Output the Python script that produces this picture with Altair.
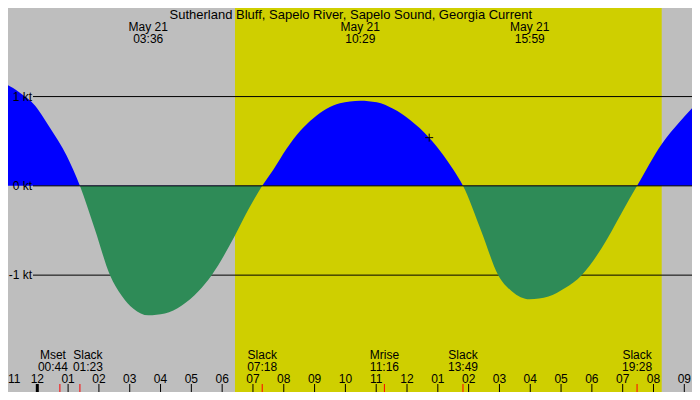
import altair as alt
import pandas as pd

STATION = "Sutherland Bluff, Sapelo River, Sapelo Sound, Georgia Current"
DAY = "May 21"

# current: hours after midnight May 21 (negative = May 20 evening), knots
curve_hours = [-1.25, -0.80, -0.40, -0.13, 0.41, 0.95, 1.383,
               1.87, 2.36, 2.74, 3.12, 3.6, 4.14, 4.69, 5.23, 5.66, 6.42, 6.85, 7.30,
               7.66, 8.09, 8.53, 8.96, 9.39, 9.82, 10.48, 11.02, 11.55, 12.10, 12.72, 13.18, 13.50, 13.817,
               14.42, 14.96, 15.40, 15.98, 16.59, 17.13, 17.67, 18.32, 18.97, 19.467,
               20.27, 20.86, 21.55]
curve_knots = [1.17, 1.10, 1.0, 0.92, 0.65, 0.34, 0.0,
               -0.49, -1.0, -1.23, -1.376, -1.45, -1.43, -1.34, -1.18, -1.0, -0.553, -0.266, 0.0,
               0.18, 0.415, 0.613, 0.756, 0.863, 0.925, 0.954, 0.935, 0.863, 0.738, 0.54, 0.344, 0.183, 0.0,
               -0.516, -1.0, -1.18, -1.27, -1.24, -1.144, -1.0, -0.696, -0.30, 0.0,
               0.47, 0.72, 0.98]

peak_times = ["03:36", "10:29", "15:59"]

event_names = ["Mset", "Slack", "Slack", "Mrise", "Slack", "Slack"]
event_times = ["00:44", "01:23", "07:18", "11:16", "13:49", "19:28"]

sun_times = ["06:25", "20:16"]

hour_ticks = list(range(-1, 22))
hour_labels = ["11", "12", "01", "02", "03", "04", "05", "06", "07", "08", "09", "10",
               "11", "12", "01", "02", "03", "04", "05", "06", "07", "08", "09"]

kt_levels = [1, 0, -1]
kt_labels = ["1 kt", "0 kt", "-1 kt"]

now_hour = [12.72]
now_knots = [0.54]

GRAY = "#bebebe"
DAYCOL = "#cfcf00"
FLOOD = "#0000ff"
EBB = "#2e8b57"
FONT = "Liberation Sans"
W, H = 684, 384


def to_hours(t):
    hh, mm = t.split(":")
    return int(hh) + int(mm) / 60


xs = alt.Scale(domain=[-0.951, 21.250], nice=False, zero=False)
ys = alt.Scale(domain=[-2.309, 1.992], nice=False, zero=False)


def X(f):
    return alt.X(f, scale=xs, axis=None)


def Y(f):
    return alt.Y(f, scale=ys, axis=None)


curve = pd.DataFrame({"h": curve_hours, "kt": curve_knots})

# blue above the zero line, green below: hard stop in a gradient over the area's box
top = max(max(curve_knots), 0)
bottom = min(min(curve_knots), 0)
cut = top / (top - bottom)
fill = alt.LinearGradient(
    gradient="linear", x1=0, y1=0, x2=0, y2=1,
    stops=[
        alt.GradientStop(offset=0, color=FLOOD),
        alt.GradientStop(offset=cut, color=FLOOD),
        alt.GradientStop(offset=cut, color=EBB),
        alt.GradientStop(offset=1, color=EBB),
    ],
)

sun = pd.DataFrame({"rise": [to_hours(sun_times[0])], "set": [to_hours(sun_times[1])]})
events = pd.DataFrame({"name": event_names, "t": event_times})
events["h"] = events["t"].map(to_hours)
peaks = pd.DataFrame({"t": peak_times, "date": DAY})
peaks["h"] = peaks["t"].map(to_hours)
hours = pd.DataFrame({"h": hour_ticks, "label": hour_labels})
levels = pd.DataFrame({"kt": kt_levels, "label": kt_labels})
now = pd.DataFrame({"h": now_hour, "kt": now_knots})

daylight = alt.Chart(sun).mark_rect(color=DAYCOL).encode(
    x=X("rise:Q"), x2="set:Q", y=alt.value(0), y2=alt.value(H)
)

grid = alt.Chart(levels[levels.kt != 0]).mark_rule(color="black").encode(
    y=Y("kt:Q"), x=alt.value(25), x2=alt.value(W)
)
zero_line = alt.Chart(levels[levels.kt == 0]).mark_rule(color="black").encode(
    y=Y("kt:Q"), x=alt.value(25), x2=alt.value(W)
)

txt = dict(font=FONT, fontSize=12, color="black", align="center", baseline="alphabetic")

kt_text = alt.Chart(levels).mark_text(
    align="right", baseline="middle", font=FONT, fontSize=12, color="black"
).encode(y=Y("kt:Q"), x=alt.value(24), text="label:N")

current = alt.Chart(curve).mark_area(color=fill, interpolate="monotone", clip=True).encode(
    x=X("h:Q"), y=Y("kt:Q"), y2=alt.datum(0)
)

cross = alt.Chart(now).mark_point(
    shape="M-1,0H1M0,-1V1", size=64, color="black", strokeWidth=1, filled=False, opacity=1
).encode(x=X("h:Q"), y=Y("kt:Q"))

title = alt.Chart(pd.DataFrame({"s": [STATION]})).mark_text(**{**txt, "fontSize": 13}).encode(
    x=alt.value(342.8), y=alt.value(10.8), text="s:N"
)
peak_date = alt.Chart(peaks).mark_text(**txt).encode(x=X("h:Q"), y=alt.value(22.8), text="date:N")
peak_time = alt.Chart(peaks).mark_text(**txt).encode(x=X("h:Q"), y=alt.value(34.8), text="t:N")

# first two events sit too close together, so their labels are pushed apart
ev_layers = []
for i, dx in [(0, -7), (1, 8)]:
    d = events.iloc[[i]]
    ev_layers.append(alt.Chart(d).mark_text(dx=dx, **txt).encode(x=X("h:Q"), y=alt.value(350.8), text="name:N"))
    ev_layers.append(alt.Chart(d).mark_text(dx=dx, **txt).encode(x=X("h:Q"), y=alt.value(362.8), text="t:N"))
rest = events.iloc[2:]
ev_layers.append(alt.Chart(rest).mark_text(**txt).encode(x=X("h:Q"), y=alt.value(350.8), text="name:N"))
ev_layers.append(alt.Chart(rest).mark_text(**txt).encode(x=X("h:Q"), y=alt.value(362.8), text="t:N"))

ticks = alt.Chart(hours).mark_rule(color="black").encode(
    x=X("h:Q"), y=alt.value(376), y2=alt.value(H)
)
midnight = alt.Chart(hours[hours.h == 0]).mark_rule(color="black", strokeWidth=3).encode(
    x=X("h:Q"), y=alt.value(376), y2=alt.value(H)
)
ev_ticks = alt.Chart(events).mark_rule(color="red").encode(
    x=X("h:Q"), y=alt.value(376), y2=alt.value(H)
)
# the first hour label would hang off the left edge, so it is pinned to it
hour_text = alt.Chart(hours.iloc[1:]).mark_text(**txt).encode(
    x=X("h:Q"), y=alt.value(374.8), text="label:N"
)
first_hour = alt.Chart(hours.iloc[[0]]).mark_text(**{**txt, "align": "left"}).encode(
    x=alt.value(0), y=alt.value(374.8), text="label:N"
)

chart = alt.layer(
    daylight, grid, current, zero_line, cross, kt_text,
    title, peak_date, peak_time, *ev_layers,
    ticks, midnight, ev_ticks, hour_text, first_hour,
).properties(
    width=W, height=H, padding=0, autosize=alt.AutoSizeParams(type="none"), background=GRAY
).configure_view(stroke=None)

chart.save("out.html", embed_options={"renderer": "svg", "actions": False})
